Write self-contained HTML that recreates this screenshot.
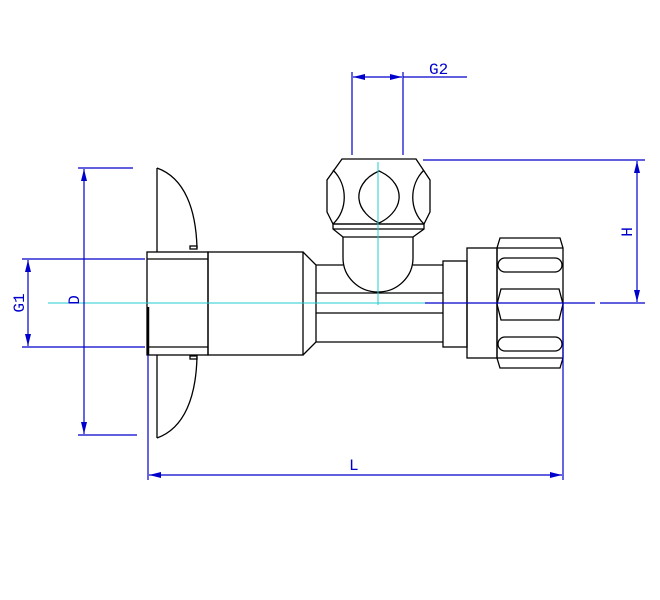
<!DOCTYPE html>
<html><head><style>html,body{margin:0;padding:0;background:#fff}svg{display:block}</style></head>
<body>
<svg width="660" height="600" viewBox="0 0 660 600" xmlns="http://www.w3.org/2000/svg">
<defs>
<marker id="a" markerWidth="12" markerHeight="6" refX="12" refY="3" orient="auto" markerUnits="userSpaceOnUse">
<path d="M0,0 L12,3 L0,6 Z" fill="#0000cc"/></marker>
</defs>
<g stroke="#000" stroke-width="1.3" fill="none">
<!-- flange -->
<line x1="157" y1="168" x2="157" y2="252"/>
<line x1="157" y1="355" x2="157" y2="438"/>
<path d="M157,168 C185,178 196,210 197,248"/>
<path d="M157,438 C185,428 196,396 197,357"/>
<rect x="190" y="246" width="7" height="3"/>
<rect x="190" y="356" width="7" height="3"/>
<!-- socket -->
<rect x="147" y="252" width="61" height="103"/>
<line x1="147" y1="259" x2="208" y2="259"/>
<line x1="147" y1="347" x2="208" y2="347"/>
<line x1="148" y1="307" x2="148" y2="355" stroke-width="2.5"/>
<!-- body -->
<rect x="208" y="252" width="95" height="103"/>
<path d="M303,252 L316,265 L316,342 L303,355"/>
<!-- tube -->
<line x1="316" y1="265" x2="343" y2="265"/>
<line x1="413" y1="265" x2="443" y2="265"/>
<line x1="316" y1="342" x2="443" y2="342"/>
<line x1="316" y1="293" x2="443" y2="293"/>
<line x1="316" y1="313" x2="443" y2="313"/>
<!-- bonnet stem -->
<path d="M343,237 L343,258 A35,34 0 0 0 413,258 L413,237"/>
<!-- collar -->
<path d="M333,224 L424,224 L424,229 L413,237 L343,237 L333,229 Z"/>
<line x1="333" y1="229" x2="424" y2="229"/>
<!-- knob -->
<path d="M342,159 L416,159 L430,180 L430,212 L424,224 L333,224 L327,212 L327,180 Z"/>
<path d="M379,171 C363,178 358,190 359,199 C360,210 370,219 379,223 C388,219 398,210 399,199 C400,190 395,178 379,171 Z"/>
<path d="M333,170 C348,185 348,210 333,224"/>
<path d="M424,170 C409,185 409,210 424,224"/>
<!-- nut blocks -->
<rect x="443" y="261" width="24" height="86"/>
<rect x="467" y="248" width="30" height="110"/>
<path d="M500,238 L560,238 L563,248 L563,358 L560,368 L500,368 L497,358 L497,248 Z"/>
<line x1="497" y1="248" x2="563" y2="248"/>
<line x1="497" y1="358" x2="563" y2="358"/>
<rect x="498" y="258" width="64" height="14" rx="7"/>
<path d="M501,289 L559,289 L563,304 L559,320 L501,320 L497,304 Z"/>
<rect x="498" y="337" width="64" height="14" rx="7"/>
</g>
<!-- center lines -->
<g stroke="#22cccc" stroke-width="1">
<line x1="48" y1="303" x2="595" y2="303"/>
<line x1="378" y1="162" x2="378" y2="305"/>
</g>
<g stroke="#0000cc" stroke-width="1.2" fill="none">
<line x1="425" y1="303" x2="595" y2="303"/>
<line x1="563" y1="303" x2="563" y2="480"/>
<line x1="22" y1="259" x2="145" y2="259"/>
<line x1="22" y1="347" x2="145" y2="347"/>
<line x1="28" y1="303" x2="28" y2="260" marker-end="url(#a)"/>
<line x1="28" y1="303" x2="28" y2="346" marker-end="url(#a)"/>
<line x1="78" y1="168" x2="133" y2="168"/>
<line x1="78" y1="435" x2="137" y2="435"/>
<line x1="84" y1="300" x2="84" y2="169" marker-end="url(#a)"/>
<line x1="84" y1="300" x2="84" y2="434" marker-end="url(#a)"/>
<line x1="148" y1="355" x2="148" y2="480"/>
<line x1="355" y1="475" x2="149" y2="475" marker-end="url(#a)"/>
<line x1="355" y1="475" x2="562" y2="475" marker-end="url(#a)"/>
<line x1="352" y1="72" x2="352" y2="155"/>
<line x1="403" y1="72" x2="403" y2="155"/>
<line x1="378" y1="77" x2="353" y2="77" marker-end="url(#a)"/>
<line x1="378" y1="77" x2="402" y2="77" marker-end="url(#a)"/>
<line x1="403" y1="77" x2="467" y2="77"/>
<line x1="423" y1="160" x2="645" y2="160"/>
<line x1="600" y1="303" x2="645" y2="303"/>
<line x1="637" y1="232" x2="637" y2="161" marker-end="url(#a)"/>
<line x1="637" y1="232" x2="637" y2="302" marker-end="url(#a)"/>
</g>
<g fill="#0000cc" font-family="Liberation Mono, monospace" font-size="16">
<text x="429" y="74">G2</text>
<text x="349" y="470">L</text>
<text transform="translate(24,303) rotate(-90)" text-anchor="middle">G1</text>
<text transform="translate(79,300) rotate(-90)" text-anchor="middle">D</text>
<text transform="translate(632,232) rotate(-90)" text-anchor="middle">H</text>
</g>
</svg>
</body></html>
